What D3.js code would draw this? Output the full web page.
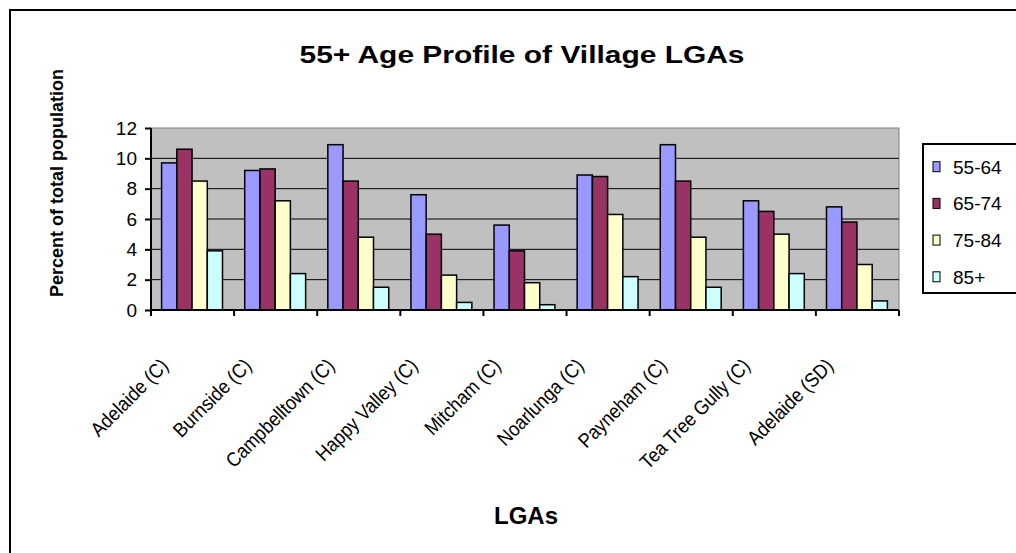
<!DOCTYPE html>
<html>
<head>
<meta charset="utf-8">
<script src="https://cdn.jsdelivr.net/npm/d3@7"></script>
<style>
  html, body { margin: 0; padding: 0; background: #fff; overflow: hidden; width: 1016px; height: 553px; }
  svg { display: block; }
  text { font-family: "Liberation Sans", Arial, sans-serif; }
</style>
</head>
<body>
<div id="chart"></div>
<script>
const lgas = ["Adelaide (C)", "Burnside (C)", "Campbelltown (C)", "Happy Valley (C)", "Mitcham (C)",
    "Noarlunga (C)", "Payneham (C)", "Tea Tree Gully (C)", "Adelaide (SD)"];
const ageGroups = ["55-64", "65-74", "75-84", "85+"];
const v55 = [9.7, 9.2, 10.9, 7.6, 5.6, 8.9, 10.9, 7.2, 6.8];
const v65 = [10.6, 9.3, 8.5, 5.0, 3.9, 8.8, 8.5, 6.5, 5.8];
const v75 = [8.5, 7.2, 4.8, 2.3, 1.8, 6.3, 4.8, 5.0, 3.0];
const v85 = [3.9, 2.4, 1.5, 0.5, 0.35, 2.2, 1.5, 2.4, 0.6];
const yTicks = [0, 2, 4, 6, 8, 10, 12];
const colors = ["#9999ff", "#993366", "#ffffcc", "#ccffff"];

const series = [v55, v65, v75, v85];
const rows = lgas.map((name, i) => ({name, vals: series.map(s => s[i])}));

const W = 1016, H = 553;
const margin = {top: 128, left: 151};
const width = 748, height = 182;

const root = d3.select("#chart").append("svg")
    .attr("width", W).attr("height", H);

root.append("rect").attr("width", W).attr("height", H).attr("fill", "#fff");

// outer chart border, only left and top edges are inside the picture
root.append("path")
    .attr("d", `M10,${H + 5}V10H${W + 5}`)
    .attr("fill", "none").attr("stroke", "#000").attr("stroke-width", 2);

root.append("text")
    .attr("x", 522).attr("y", 63)
    .attr("text-anchor", "middle")
    .attr("font-weight", "bold").attr("font-size", 24)
    .attr("textLength", 445).attr("lengthAdjust", "spacingAndGlyphs")
    .text("55+ Age Profile of Village LGAs");

const svg = root.append("g")
    .attr("transform", `translate(${margin.left},${margin.top})`);

const x0 = d3.scaleBand().domain(lgas).range([0, width]).padding(0);
const x1 = d3.scaleBand().domain(ageGroups).range([10.6, x0.bandwidth() - 11.6]);
const y = d3.scaleLinear().domain([0, 12]).range([height, 0]);

svg.append("rect")
    .attr("width", width).attr("height", height)
    .attr("fill", "#c0c0c0").attr("stroke", "#808080").attr("stroke-width", 1);

svg.append("g")
    .selectAll("line")
    .data(yTicks.filter(t => t > 0 && t < 12))
    .join("line")
    .attr("x1", 0).attr("x2", width)
    .attr("y1", d => y(d)).attr("y2", d => y(d))
    .attr("stroke", "#000").attr("stroke-width", 1);

svg.append("g")
    .selectAll("g")
    .data(rows)
    .join("g")
    .attr("transform", d => `translate(${x0(d.name)},0)`)
    .selectAll("rect")
    .data(d => d.vals.map((v, k) => ({k, v})))
    .join("rect")
    .attr("x", d => x1(ageGroups[d.k]))
    .attr("y", d => y(d.v))
    .attr("width", x1.bandwidth())
    .attr("height", d => height - y(d.v))
    .attr("fill", d => colors[d.k])
    .attr("stroke", "#000").attr("stroke-width", 1.5);

// y axis
const yAxis = svg.append("g")
    .call(d3.axisLeft(y).tickValues(yTicks).tickSize(6).tickPadding(8).tickFormat(d3.format("d")));
yAxis.select(".domain").attr("stroke", "#000").attr("stroke-width", 2).attr("d", `M0,0V${height}`);
yAxis.selectAll(".tick line").attr("stroke-width", 2);
yAxis.selectAll("text").attr("font-size", 19).attr("font-family", "Liberation Sans, Arial, sans-serif");

// x axis with ticks on category boundaries
const xAxis = svg.append("g").attr("transform", `translate(0,${height})`);
xAxis.append("line").attr("x1", 0).attr("x2", width).attr("stroke", "#000").attr("stroke-width", 2);
xAxis.selectAll(".bt")
    .data(lgas.concat(["end"]))
    .join("line")
    .attr("class", "bt")
    .attr("x1", (d, i) => i * x0.step()).attr("x2", (d, i) => i * x0.step())
    .attr("y1", 0).attr("y2", 6)
    .attr("stroke", "#000").attr("stroke-width", 2);
xAxis.selectAll(".lab")
    .data(lgas)
    .join("text")
    .attr("class", "lab")
    .attr("text-anchor", "end")
    .attr("font-size", 20)
    .attr("transform", d => `translate(${x0(d) + x0.bandwidth() / 2 - 23},57) rotate(-45) scale(0.9,1)`)
    .text(d => d);

// axis titles
root.append("text")
    .attr("transform", `translate(63,183) rotate(-90)`)
    .attr("text-anchor", "middle")
    .attr("font-weight", "bold").attr("font-size", 18)
    .text("Percent of total population");

root.append("text")
    .attr("x", 526).attr("y", 524)
    .attr("text-anchor", "middle")
    .attr("font-weight", "bold").attr("font-size", 24)
    .text("LGAs");

// legend
const legend = root.append("g").attr("transform", "translate(923,144)");
legend.append("rect")
    .attr("width", 200).attr("height", 149)
    .attr("fill", "#fff").attr("stroke", "#000").attr("stroke-width", 2);
const li = legend.selectAll(".li")
    .data(ageGroups)
    .join("g")
    .attr("class", "li")
    .attr("transform", (d, i) => `translate(0,${22.7 + i * 36.7})`);
li.append("rect")
    .attr("x", 10).attr("y", -5).attr("width", 7).attr("height", 10)
    .attr("fill", (d, i) => colors[i]).attr("stroke", "#000").attr("stroke-width", 1);
li.append("text")
    .attr("x", 30).attr("y", 7)
    .attr("font-size", 19)
    .text(d => d);
</script>
</body>
</html>
